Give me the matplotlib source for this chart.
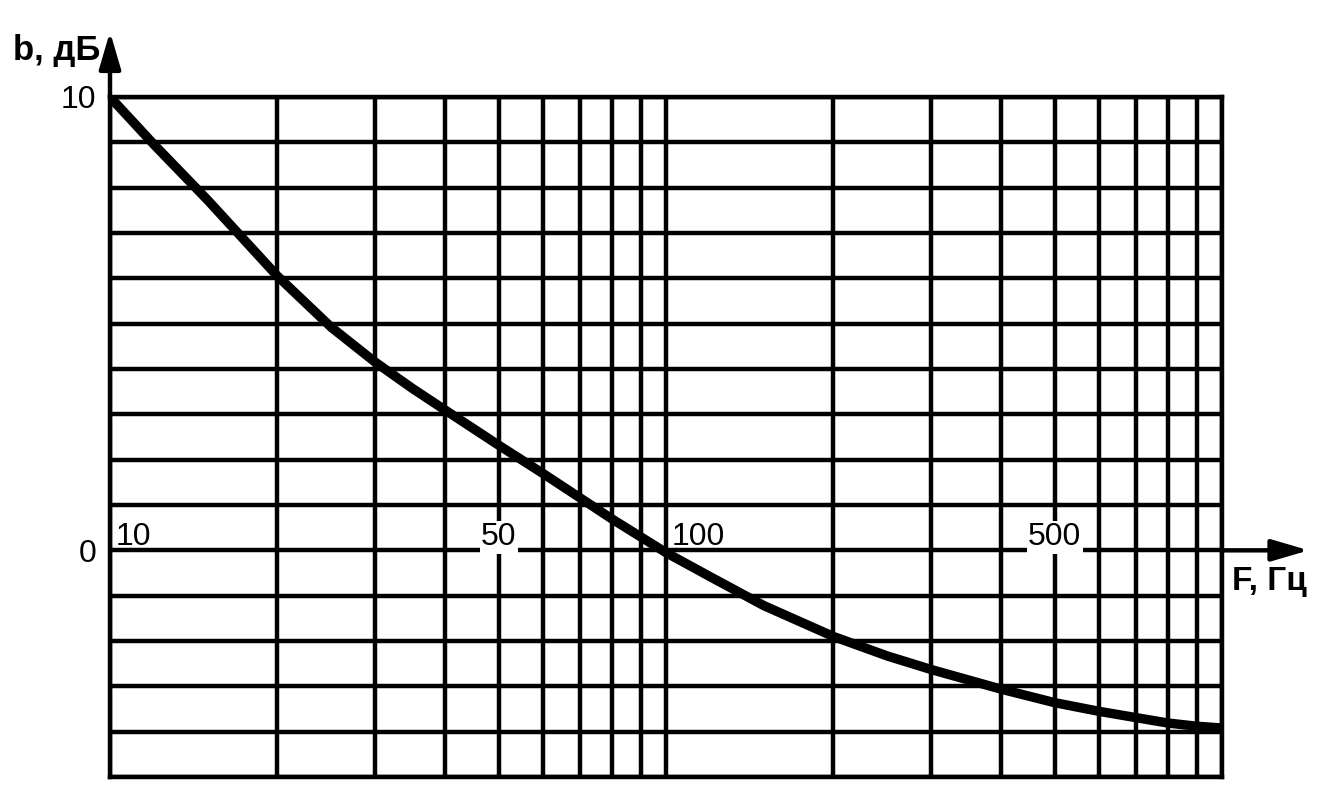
import matplotlib
matplotlib.use("Agg")
import matplotlib.pyplot as plt
from matplotlib.ticker import LogLocator, NullFormatter
import numpy as np

plt.rcParams['font.family'] = ['Liberation Sans', 'DejaVu Sans']

# frequency response
freq_hz = [10, 12, 15, 20, 25, 30, 35, 40, 50, 60, 70, 80, 100, 120, 150, 200, 250, 300,
           400, 500, 600, 700, 800, 900, 1000]
b_db = [10.0, 8.95, 7.72, 6.05, 4.92, 4.15, 3.57, 3.10, 2.32, 1.70, 1.16, 0.69, -0.05,
        -0.58, -1.22, -1.90, -2.33, -2.63, -3.06, -3.36, -3.55, -3.69, -3.81, -3.88, -3.92]

x_labels = [10, 50, 100, 500]
y_ticks = list(range(-5, 11))
y_labels = {0: "0", 10: "10"}

fig = plt.figure(figsize=(13.21, 8.07), dpi=100)
ax = fig.add_axes([110 / 1321, 30 / 807, 1112 / 1321, 680 / 807])

lw = 3.2
ax.plot(freq_hz, b_db, color="black", linewidth=6.8, solid_capstyle="round",
        solid_joinstyle="round", zorder=4)

ax.set_xscale("log")
ax.set_xlim(10, 1000)
ax.set_ylim(-5, 10)
ax.xaxis.set_major_locator(LogLocator(base=10, numticks=10))
ax.xaxis.set_minor_locator(LogLocator(base=10, subs=np.arange(2, 10), numticks=20))
ax.xaxis.set_major_formatter(NullFormatter())
ax.xaxis.set_minor_formatter(NullFormatter())
ax.set_yticks(y_ticks)
ax.set_yticklabels([y_labels.get(v, "") for v in y_ticks], fontsize=23)
ax.tick_params(which="both", length=0)
ax.tick_params(axis="y", pad=10)
ax.set_axisbelow(True)
ax.grid(which="both", color="black", linewidth=lw)
for s in ax.spines.values():
    s.set_linewidth(lw)
    s.set_color("black")

# frequency labels sitting on the 0 dB line
for f in x_labels:
    if f in (10, 100):
        ax.text(f * 1.025, 0.11, str(f), ha="left", va="baseline", fontsize=23, zorder=3)
    else:
        ax.text(f, 0.11, str(f), ha="center", va="baseline", fontsize=23, zorder=3,
                bbox=dict(facecolor="white", edgecolor="none", pad=1))

# axis arrows
arrow = dict(arrowstyle="-|>,head_length=0.75,head_width=0.22", color="black",
             lw=lw, mutation_scale=30, shrinkA=0, shrinkB=0)
ax.annotate("", xy=(0, 1.096), xytext=(0, 1.0), xycoords="axes fraction",
            arrowprops=arrow, annotation_clip=False)
ax.annotate("", xy=(1.078, 0), xytext=(1.0, 0), xycoords=ax.get_yaxis_transform(),
            arrowprops=arrow, annotation_clip=False)

ax.text(-0.009, 1.054, "b, дБ", transform=ax.transAxes, ha="right", va="baseline",
        fontsize=25, fontweight="bold")
ax.text(1.009, -0.88, "F, Гц", transform=ax.get_yaxis_transform(), ha="left", va="baseline",
        fontsize=24, fontweight="bold")

plt.savefig("out.png", dpi=100)
